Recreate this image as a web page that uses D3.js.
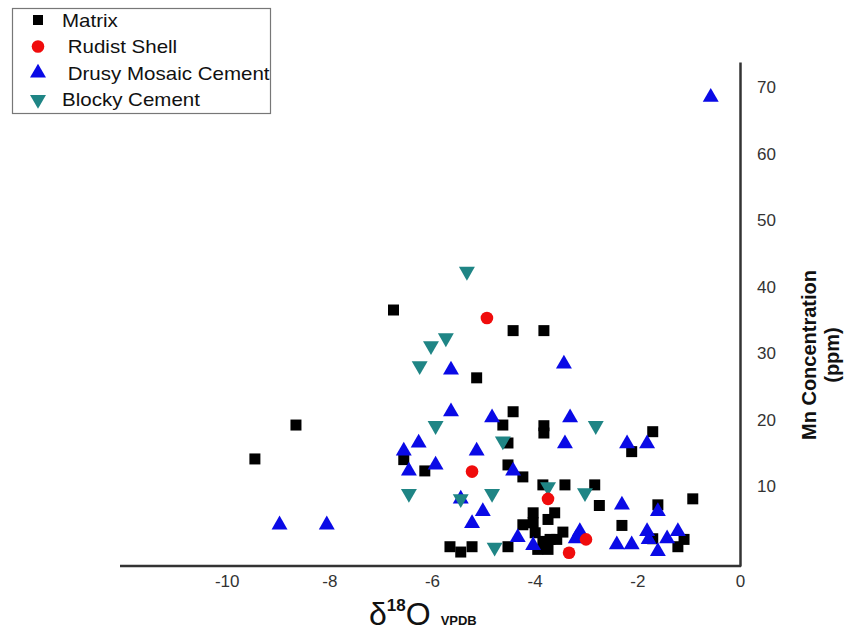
<!DOCTYPE html>
<html lang="en">
<head>
  <meta charset="UTF-8">
  <title>Mn vs d18O</title>
  <script src="https://d3js.org/d3.v7.min.js"></script>
  <style>
    body { margin: 0; padding: 0; background: #fff; font-family: "Liberation Sans", Arial, sans-serif; }
    svg { display: block; }
    .tick text { fill: #333; font-size: 17px; font-family: "Liberation Sans", Arial, sans-serif; }
  </style>
</head>
<body>
  <svg width="852" height="637"></svg>
  <script>
    // series: [d18O, Mn ppm]
    const matrix = [
      [-9.45, 14.1], [-8.65, 19.2], [-6.75, 36.5], [-6.55, 14], [-6.14, 12.3],
      [-5.13, 26.3], [-4.42, 33.4], [-3.82, 33.4], [-4.42, 21.2], [-4.62, 19.2],
      [-3.82, 19.1], [-3.82, 18.0], [-4.52, 16.5], [-4.52, 13.2], [-4.23, 11.4],
      [-3.84, 10.2], [-3.41, 10.2], [-2.83, 10.2], [-2.74, 7.1], [-4.03, 6.0],
      [-3.61, 6.0], [-3.74, 5.0], [-4.03, 4.5], [-4.23, 4.2], [-3.99, 3.0],
      [-3.45, 3.1], [-3.70, 2.0], [-4.52, 0.9], [-3.94, 0.5], [-3.74, 0.5],
      [-3.57, 2.0], [-3.84, 1.7], [-5.65, 0.9], [-5.44, 0.1], [-5.22, 0.9],
      [-1.70, 18.2], [-2.11, 15.2], [-0.92, 8.1], [-1.60, 7.2], [-2.30, 4.1],
      [-1.70, 2.1], [-1.09, 2.0], [-1.21, 0.9]
    ];
    const rudist = [[-4.93, 35.3], [-5.22, 12.2], [-3.74, 8.1], [-3.0, 2.0], [-3.33, 0.0]];
    const drusy = [
      [-0.57, 68.5], [-8.97, 4.2], [-8.05, 4.2], [-5.63, 21.2], [-4.83, 20.3],
      [-6.26, 16.5], [-6.55, 15.3], [-5.13, 15.3], [-6.45, 12.3], [-5.93, 13.2],
      [-5.63, 27.5], [-3.43, 28.4], [-3.31, 20.3], [-3.41, 16.4], [-4.42, 12.3],
      [-5.01, 6.2], [-5.22, 4.4], [-5.44, 8.1], [-4.33, 2.3], [-4.03, 1.1],
      [-3.14, 2.7], [-2.20, 16.4], [-1.81, 16.4], [-2.30, 7.2], [-1.60, 6.2],
      [-3.12, 3.2], [-3.20, 2.1], [-2.40, 1.2], [-2.11, 1.2], [-1.81, 3.2],
      [-1.78, 2.0], [-1.42, 2.1], [-1.21, 3.2], [-1.60, 0.2]
    ];
    const blocky = [
      [-5.32, 42.3], [-5.73, 32.3], [-6.02, 31.1], [-6.24, 28.1], [-5.93, 19.1],
      [-4.62, 16.8], [-2.81, 19.1], [-6.45, 8.9], [-5.44, 8.1], [-4.83, 8.9],
      [-4.78, 0.8], [-3.74, 9.9], [-3.02, 9.0]
    ];
    const xTicks = [-10, -8, -6, -4, -2, 0];
    const yTicks = [10, 20, 30, 40, 50, 60, 70];
    const legendNames = ["Matrix", " Rudist Shell", " Drusy Mosaic Cement", "Blocky Cement"];

    const svg = d3.select("svg");

    const x = d3.scaleLinear().domain([-12, 0]).range([124, 740]);
    const y = d3.scaleLinear().domain([-2, 73.8]).range([566, 62]);

    const styles = [
      { data: matrix, shape: d3.symbolSquare, size: 121, fill: "#000", rot: 0 },
      { data: drusy, shape: d3.symbolTriangle, size: 110, fill: "#0a0ae6", rot: 0 },
      { data: blocky, shape: d3.symbolTriangle, size: 110, fill: "#1f8585", rot: 180 },
      { data: rudist, shape: d3.symbolCircle, size: 125, fill: "#f00c0c", rot: 0 }
    ];

    // axes (plain hyphen minus like the original)
    svg.append("g")
      .attr("transform", "translate(0,566)")
      .call(d3.axisBottom(x).tickValues(xTicks).tickSize(0).tickPadding(9).tickFormat(d => String(d)))
      .call(g => g.select(".domain").attr("stroke", "#333").attr("stroke-width", 2.5).attr("d", "M120,0H741"));

    svg.append("g")
      .attr("transform", "translate(740,0)")
      .call(d3.axisRight(y).tickValues(yTicks).tickSize(0).tickPadding(17).tickFormat(d => String(d)))
      .call(g => g.select(".domain").attr("stroke", "#333").attr("stroke-width", 2.5));

    // points
    styles.forEach(s => {
      svg.append("g")
        .selectAll("path")
        .data(s.data)
        .join("path")
        .attr("d", d3.symbol().type(s.shape).size(s.size))
        .attr("fill", s.fill)
        .attr("transform", d => `translate(${x(d[0])},${y(d[1])}) rotate(${s.rot})`);
    });

    // axis titles
    const xt = svg.append("text")
      .attr("x", 369).attr("y", 625)
      .attr("font-family", "Liberation Sans, Arial, sans-serif")
      .attr("fill", "#111");
    xt.append("tspan").attr("font-size", 32).text("δ");
    xt.append("tspan").attr("font-size", 17).attr("font-weight", "bold").attr("dy", -14).text("18");
    xt.append("tspan").attr("font-size", 32).attr("dy", 14).text("O");
    xt.append("tspan").attr("font-size", 13).attr("font-weight", "bold").attr("dx", 10).text("VPDB");

    svg.append("text")
      .attr("transform", "translate(816,355) rotate(-90)")
      .attr("text-anchor", "middle")
      .attr("font-size", 20).attr("font-weight", "bold").attr("fill", "#111")
      .text("Mn Concentration");
    svg.append("text")
      .attr("transform", "translate(839,355) rotate(-90)")
      .attr("text-anchor", "middle")
      .attr("font-size", 20).attr("font-weight", "bold").attr("fill", "#111")
      .text("(ppm)");

    // legend
    const legend = svg.append("g");
    legend.append("rect")
      .attr("x", 12.5).attr("y", 8.5).attr("width", 258).attr("height", 105)
      .attr("fill", "#fff").attr("stroke", "#777").attr("stroke-width", 1.2);
    const legendStyles = [styles[0], styles[3], styles[1], styles[2]];
    legendNames.forEach((name, i) => {
      const s = legendStyles[i];
      const cy = 20 + i * 26.5;
      legend.append("path")
        .attr("d", d3.symbol().type(s.shape).size(s.shape === d3.symbolSquare ? 100 : s.size))
        .attr("fill", s.fill)
        .attr("transform", `translate(38,${cy}) rotate(${s.rot})`);
      legend.append("text")
        .attr("transform", `translate(62,${cy + 6.5}) scale(1.14,1)`)
        .attr("font-size", 18).attr("fill", "#111")
        .attr("xml:space", "preserve")
        .style("white-space", "pre")
        .text(name);
    });
  </script>
</body>
</html>
